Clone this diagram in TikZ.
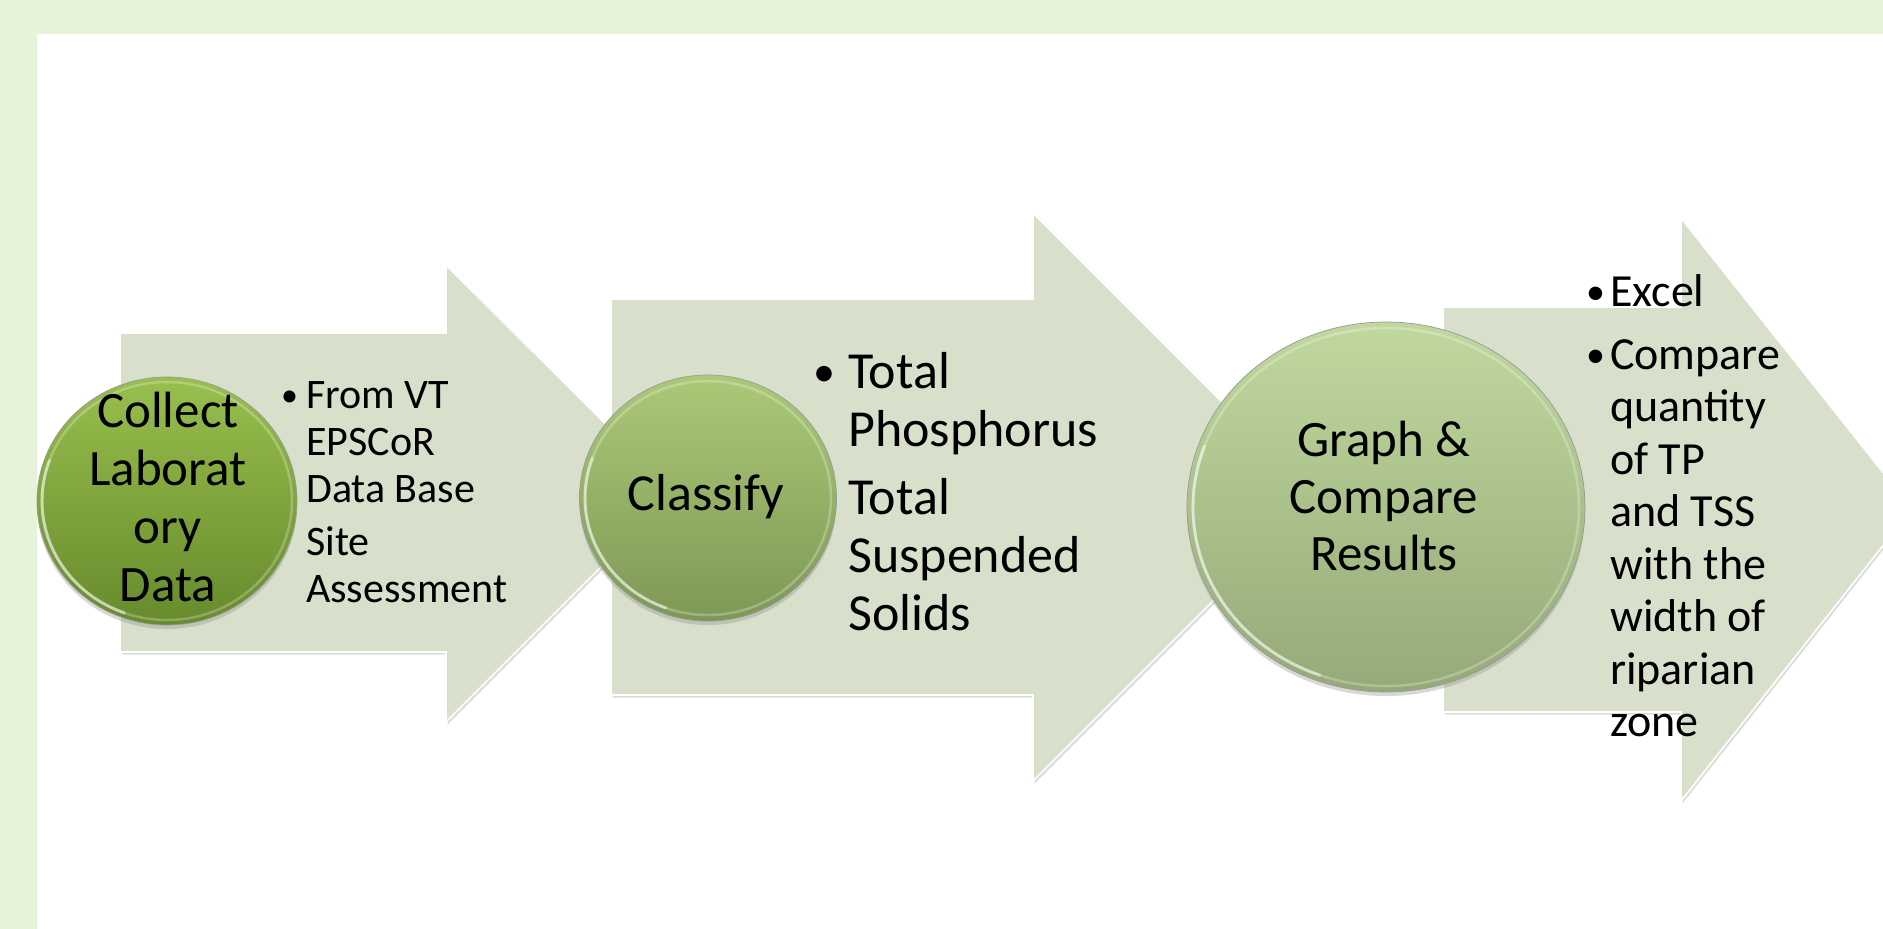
\documentclass[tikz,border=0pt]{standalone}
\usepackage{fontspec}
\setmainfont{Carlito}
\usetikzlibrary{shapes.geometric, shadows}
\definecolor{pagegreen}{HTML}{E6F2D9}
\definecolor{arrowfill}{HTML}{D8E0CC}
\definecolor{arrowedge}{HTML}{BCC5B2}
\definecolor{collecttop}{HTML}{98BF4E}
\definecolor{collectbot}{HTML}{678A2C}
\definecolor{classtop}{HTML}{ABC977}
\definecolor{classbot}{HTML}{7D9856}
\definecolor{graphtop}{HTML}{C0D89E}
\definecolor{graphbot}{HTML}{95AA78}
\tikzset{
  flowarrow/.style={fill=arrowfill, draw=white, line width=1.6pt,
                    drop shadow={opacity=0.35, shadow xshift=1.5pt, shadow yshift=-2.5pt, fill=arrowedge!80!black}},
  button/.style={ellipse, inner sep=0pt, draw=black!40, line width=0.7pt,
                 drop shadow={opacity=0.3, shadow xshift=0pt, shadow yshift=-4pt}},
  rim/.style={draw=white, opacity=0.25, line width=2.5pt},
  glint/.style={draw=white, opacity=0.5, line width=3pt, line cap=round},
  btntext/.style={anchor=base, inner sep=0pt},
  listtxt/.style={anchor=base west, inner sep=0pt},
  dotmark/.style={anchor=base west, inner sep=0pt},
}

\begin{document}
\begin{tikzpicture}[x=1pt, y=-1pt]
  \useasboundingbox (0,0) rectangle (1883,929);
  \clip (0,0) rectangle (1883,929);
  % --- page ---
  \fill[pagegreen] (0,0) rectangle (1883,929);
  \fill[white] (37,34) rectangle (1883,929);

  % --- step 1 ---
  \draw[flowarrow] (120,333) -- (446,333) -- (446,265) -- (675,493)
                   -- (446,722) -- (446,652) -- (120,652) -- cycle;
  \node[button, minimum width=260pt, minimum height=248pt,
        top color=collecttop, bottom color=collectbot] (collect) at (167,501) {};
  \draw[rim] (collect.center) ellipse [x radius=125, y radius=119];
  \draw[glint] (collect.center) ++(200:125 and 119) arc [start angle=200, end angle=110, x radius=125, y radius=119];

  % --- step 2 ---
  \draw[flowarrow] (611,299) -- (1033,299) -- (1033,213) -- (1317,497)
                   -- (1033,781) -- (1033,695) -- (611,695) -- cycle;
  \node[button, minimum width=257pt, minimum height=246pt,
        top color=classtop, bottom color=classbot] (classify) at (708,498) {};
  \draw[rim] (classify.center) ellipse [x radius=123, y radius=117];
  \draw[glint] (classify.center) ++(200:123 and 117) arc [start angle=200, end angle=110, x radius=123, y radius=117];

  % --- step 3 ---
  \draw[flowarrow] (1443,307) -- (1681,307) -- (1681,218) -- (1912,509)
                   -- (1681,801) -- (1681,712) -- (1443,712) -- cycle;
  \node[button, minimum width=398pt, minimum height=370pt,
        top color=graphtop, bottom color=graphbot] (graph) at (1386,507) {};
  \draw[rim] (graph.center) ellipse [x radius=193, y radius=179];
  \draw[glint] (graph.center) ++(200:193 and 179) arc [start angle=200, end angle=110, x radius=193, y radius=179];

  % --- circle texts ---
  \node[btntext] (collecttxt) at (168,427)
    {\parbox[t]{300pt}{\centering\fontsize{51}{58}\selectfont Collect\\Laborat\\ory\\Data}};
  \node[btntext] (classifytxt) at (706,510)
    {\fontsize{52}{58}\selectfont Classify};
  \node[btntext] (graphtxt) at (1384,456)
    {\parbox[t]{300pt}{\centering\fontsize{51}{57}\selectfont Graph \&\\Compare\\Results}};

  % --- bullet texts ---
  \node[dotmark, font=\fontsize{34}{40}\selectfont] (dot1) at (281,406) {•};
  \node[listtxt] (sourcetxt) at (306,408)
    {\parbox[t]{300pt}{\fontsize{42}{47}\selectfont From VT\\EPSCoR\\Data Base\\[6.5pt]Site\\Assessment}};

  \node[dotmark, font=\fontsize{44}{50}\selectfont] (dot2) at (813,386) {•};
  \node[listtxt] (paramtxt) at (848,388)
    {\parbox[t]{400pt}{\fontsize{52}{58}\selectfont Total\\Phosphorus\\[10pt]Total\\Suspended\\Solids}};

  \node[dotmark, font=\fontsize{38}{44}\selectfont] (dot3) at (1586,304) {•};
  \node[dotmark, font=\fontsize{38}{44}\selectfont] (dot4) at (1586,367) {•};
  \node[listtxt] (tooltxt) at (1610,306)
    {\parbox[t]{300pt}{\fontsize{46}{52.5}\selectfont Excel\\[10.5pt]Compare\\quantity\\of TP\\and TSS\\with the\\width of\\riparian\\zone}};
\end{tikzpicture}
\end{document}
